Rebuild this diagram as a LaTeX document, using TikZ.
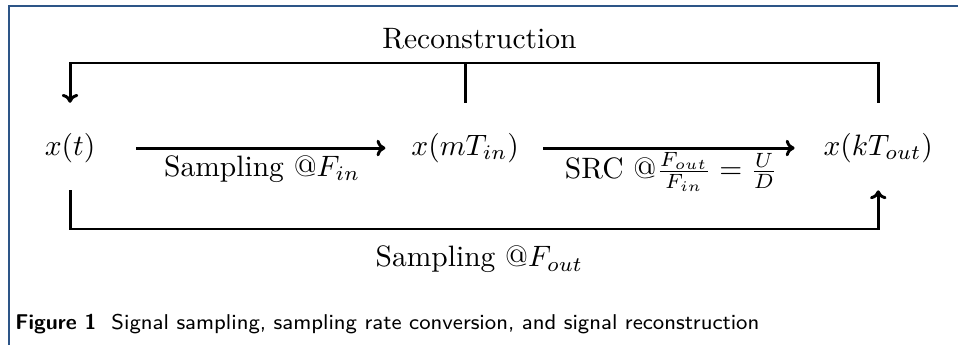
\documentclass[tikz,border=0pt]{standalone}
\usepackage{amsmath}
\usepackage{amssymb}
\usetikzlibrary{arrows.meta,calc}
\definecolor{frameblue}{RGB}{45,85,135}

\begin{document}
\begin{tikzpicture}[line width=1pt, >={To[length=3pt,width=5.6pt]}]
            \useasboundingbox (0,0) rectangle (11.41,4.109);
            \draw[frameblue, line width=0.6pt] (0.107,0) |- (11.41,4.037);
            \node at (0.834,2.346) (xt) {$x(t)$};
            \node at (5.54,2.346) (xm) {$x(mT_{in})$};
            \node at (10.46,2.346) (xk) {$x(kT_{out})$};
            \coordinate (rec) at (5.54,3.359);
            \coordinate (smp) at (5.54,1.382);
            \draw[->, shorten <=10pt, shorten >=5pt] (xt)--(xm)
                node[pos=0.53, below, inner sep=2pt] {Sampling $@F_{in}$};
            \draw[->, shorten <=4.5pt, shorten >=6pt] (xm)--(xk)
                node[midway, below, inner sep=1pt] {SRC $@\frac{F_{out}}{F_{in}}=\frac{U}{D}$};
            \draw[->, shorten <=6.5pt, shorten >=6.5pt] (xk.north) |- (rec) -| (xt.north);
            \draw[shorten <=6.5pt] (xm.north)--(rec);
            \node[above=1pt, xshift=0.17cm] at (rec) (lrec) {Reconstruction};
            \draw[->, shorten <=5.5pt, shorten >=5.5pt] (xt.south) |- (smp) -| (xk.south);
            \node[below=2pt, xshift=0.17cm] at (smp) (lsmp) {Sampling $@F_{out}$};
            \node[anchor=base west, inner sep=0pt, font=\sffamily\fontsize{7.25}{9}\selectfont] at (0.167,0.19) (cap)
            {\textbf{Figure 1}\ \ Signal sampling, sampling rate conversion, and signal reconstruction};
        \end{tikzpicture}
\end{document}
